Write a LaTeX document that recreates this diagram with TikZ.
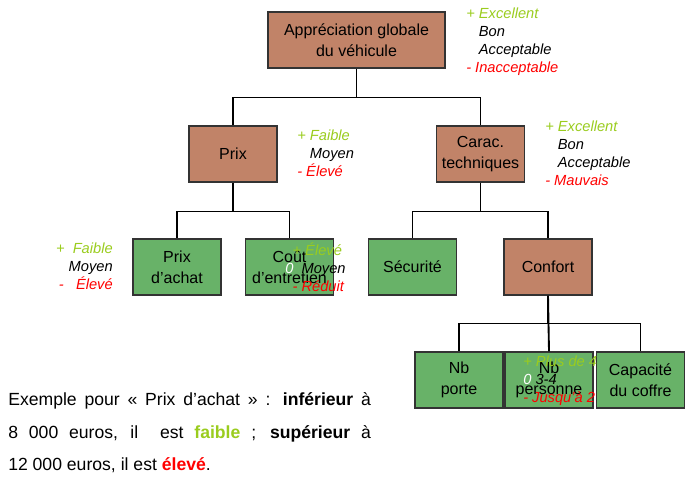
\documentclass[tikz,border=0pt]{standalone}
\usepackage{fontspec}
\setmainfont{Liberation Sans}
\usepackage{tikz}
\usetikzlibrary{positioning}

\definecolor{brun}{RGB}{193,131,104}
\definecolor{vert}{RGB}{104,178,104}
\definecolor{plus}{RGB}{154,204,30}
\definecolor{moins}{RGB}{255,0,0}

\begin{document}
\begin{tikzpicture}[
  x=0.75pt, y=-0.75pt,
  crit/.style={draw=black!80, line width=0.8pt, fill=brun, align=center, minimum width=66pt, minimum height=42pt, inner sep=0pt, font=\fontsize{12}{16}\selectfont},
  feuille/.style={crit, fill=vert},
  echelle/.style={align=left, anchor=north west, inner sep=0pt, font=\fontsize{11}{13.5}\selectfont\itshape},
  lien/.style={line width=1.4pt}
]
\useasboundingbox (0,0) rectangle (695,477);

% arbre
\node[crit, minimum width=132.75pt] (global) at (356.5,40) {Appréciation globale\\du véhicule};
\node[crit] (prix) at (233,154) {Prix};
\node[crit] (carac) at (480.5,154) {Carac.\\techniques};
\node[feuille] (achat) at (177,267) {Prix\\d’achat};
\node[feuille] (entretien) at (289.5,267) {Coût\\d’entretien};
\node[feuille] (secu) at (412.5,267) {Sécurité};
\node[crit] (confort) at (548,267) {Confort};
\node[feuille] (porte) at (459,380) {Nb\\porte};
\node[feuille] (personne) at (549,380) {Nb\\personne};
\node[feuille] (coffre) at (640.5,380) {Capacité\\du coffre};

\draw[lien] (global.south) -- ++(0,29) -| (prix.north);
\draw[lien] (global.south) ++(0,29) -| (carac.north);
\draw[lien] (prix.south) -- ++(0,29) -| (achat.north);
\draw[lien] (prix.south) ++(0,29) -| (entretien.north);
\draw[lien] (carac.south) -- ++(0,29) -| (secu.north);
\draw[lien] (carac.south) ++(0,29) -| (confort.north);
\draw[lien] (confort.south) -- ++(0,28) -| (porte.north);
\draw[lien] (confort.south) -- (personne.north);
\draw[lien] (confort.south) ++(0,28) -| (coffre.north);

% echelles
\node[echelle] (e-global) at (466,8) {\color{plus}+ Excellent\\\phantom{+ }Bon\\\phantom{+ }Acceptable\\\color{moins}- Inacceptable};
\node[echelle] (e-prix) at (297,130) {\color{plus}+ Faible\\\phantom{+ }Moyen\\\color{moins}- Élevé};
\node[echelle] (e-carac) at (545,121) {\color{plus}+ Excellent\\\phantom{+ }Bon\\\phantom{+ }Acceptable\\\color{moins}- Mauvais};
\node[echelle, align=right, anchor=north east] (e-achat) at (113,243) {\color{plus}+\ \ Faible\\Moyen\\\color{moins}-\ \ \ Élevé};
\node[echelle] (e-entretien) at (285,243) {\hspace*{5.5pt}\color{plus}+ Élevé\\{\color{white}0}\ \ Moyen\\\hspace*{5.5pt}\color{moins}- Réduit};
\node[echelle] (e-personne) at (523,356) {\color{plus}+ Plus de 4\\{\color{white}0} 3-4\\\color{moins}- Jusqu’à 2};

% exemple
\node[anchor=north west, inner sep=0pt, text width=272pt, align=justify,
  font=\fontsize{13.2}{24.6}\selectfont] (exemple) at (8,392)
  {Exemple pour « Prix d’achat » : \textbf{inférieur} à\linebreak
   8 000 euros, il \ est \textbf{\color{plus}faible} ; \textbf{supérieur} à\linebreak
   12 000 euros, il est \textbf{\color{moins}élevé}.\par};
\end{tikzpicture}
\end{document}
